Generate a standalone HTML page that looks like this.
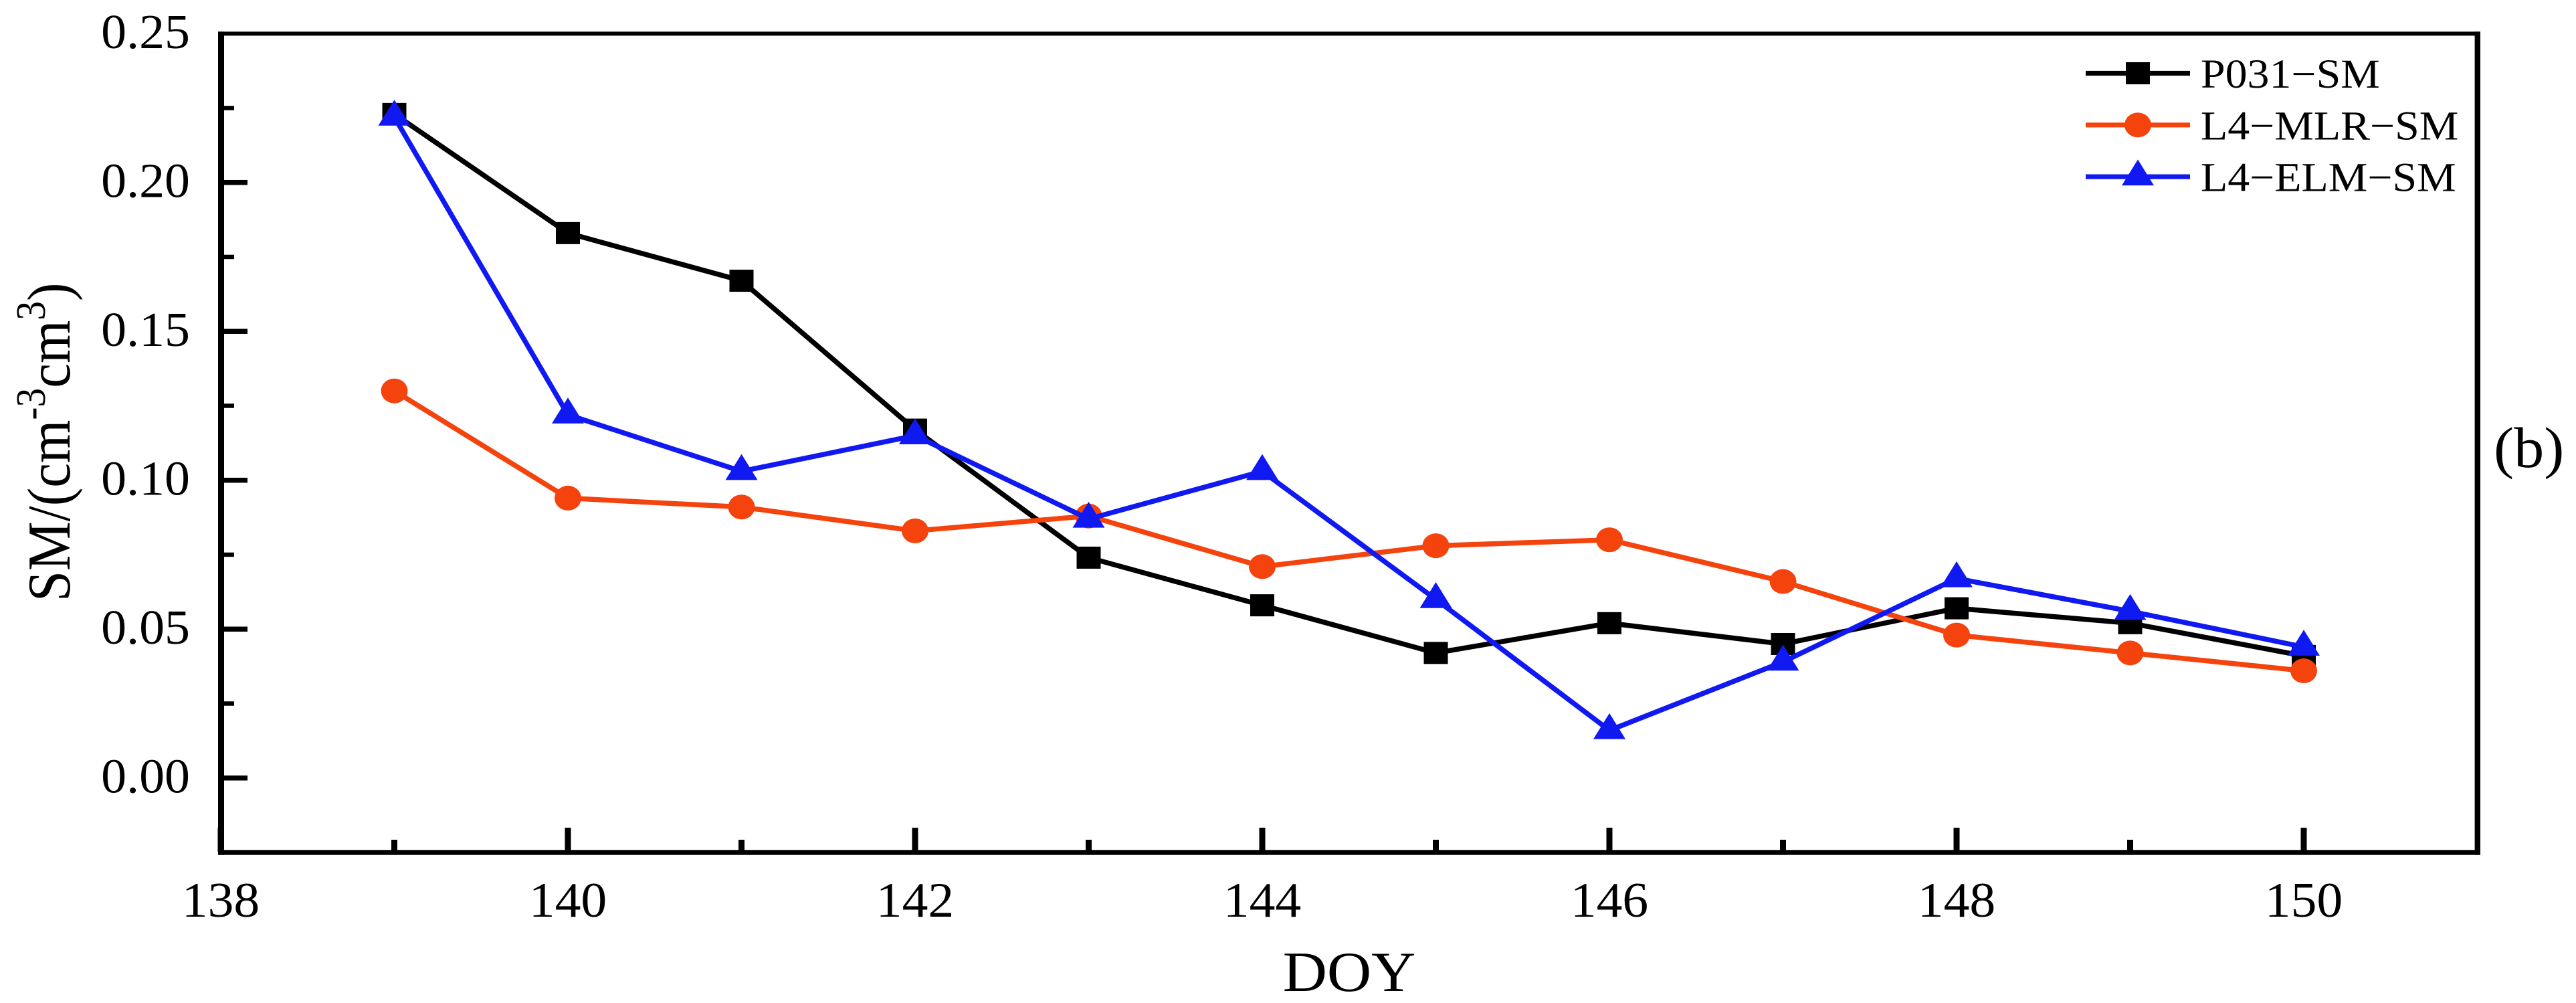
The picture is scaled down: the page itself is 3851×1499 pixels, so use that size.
<!DOCTYPE html>
<html lang="en">
<head>
<meta charset="utf-8">
<title>SM time series (b)</title>
<style>
  html, body { margin: 0; padding: 0; background: #fff; }
  svg { display: block; }
  text { font-family: "Liberation Serif", "Times New Roman", serif; fill: #000; }
</style>
</head>
<body>
<svg id="chart" xmlns="http://www.w3.org/2000/svg" width="3851" height="1499" viewBox="0 0 3851 1499">
  <rect x="0" y="0" width="3851" height="1499" fill="#ffffff"/>
  <g id="ticks"></g>
  <g id="tick-labels"></g>
  <g id="series"></g>
  <g fill="#000">
    <rect x="326" y="47.3" width="9" height="1230.4"/>
    <rect x="3699.6" y="47.3" width="8.4" height="1230.4"/>
    <rect x="326" y="47.3" width="3382" height="6"/>
    <rect x="326" y="1270.3" width="3382" height="7.4"/>
  </g>
  <text transform="translate(104,899) rotate(-90) scale(0.91,1)" font-size="91">SM/(cm<tspan font-size="63" dy="-37">-3</tspan><tspan dy="37">cm</tspan><tspan font-size="63" dy="-37">3</tspan><tspan dy="37">)</tspan></text>
  <text transform="translate(2017,1481) scale(1.08,1)" font-size="85" text-anchor="middle">DOY</text>
  <text transform="translate(3728,698) scale(1.05,1)" font-size="86">(b)</text>
  <g id="legend"></g>
</svg>
<script>
const days = [139, 140, 141, 142, 143, 144, 145, 146, 147, 148, 149, 150];
const p031Values = [0.223, 0.183, 0.167, 0.117, 0.074, 0.058, 0.042, 0.052, 0.045, 0.057, 0.052, 0.041];
const mlrValues = [0.130, 0.094, 0.091, 0.083, 0.088, 0.071, 0.078, 0.080, 0.066, 0.048, 0.042, 0.036];
const elmValues = [0.222, 0.122, 0.103, 0.115, 0.087, 0.103, 0.060, 0.016, 0.039, 0.067, 0.056, 0.044];
const seriesNames = ["P031\u2212SM", "L4\u2212MLR\u2212SM", "L4\u2212ELM\u2212SM"];
const xTickLabels = ["138", "140", "142", "144", "146", "148", "150"];
const xMinorTicks = [139, 141, 143, 145, 147, 149];
const yTickLabels = ["0.00", "0.05", "0.10", "0.15", "0.20", "0.25"];
const yMinorTicks = [0.025, 0.075, 0.125, 0.175, 0.225];

const NS = "http://www.w3.org/2000/svg";
const xDomain = [138, 151], xRange = [330, 3703.5];
const yDomain = [-0.025, 0.25], yRange = [1274, 50.2];
function xScale(v) { return xRange[0] + (v - xDomain[0]) / (xDomain[1] - xDomain[0]) * (xRange[1] - xRange[0]); }
function yScale(v) { return yRange[0] + (v - yDomain[0]) / (yDomain[1] - yDomain[0]) * (yRange[1] - yRange[0]); }
function make(tag, attrs, parent) {
  const el = document.createElementNS(NS, tag);
  for (const k in attrs) el.setAttribute(k, attrs[k]);
  parent.appendChild(el);
  return el;
}
const BLACK = "#000000", RED = "#F5430D", BLUE = "#1019F2";
const ticksG = document.getElementById("ticks");
const labelsG = document.getElementById("tick-labels");
const seriesG = document.getElementById("series");
const legendG = document.getElementById("legend");

function drawMarker(kind, cx, cy, color, parent) {
  let m;
  if (kind === "square") {
    m = make("rect", { x: cx - 18, y: cy - 16.5, width: 36, height: 33, fill: color }, parent);
  } else if (kind === "circle") {
    m = make("ellipse", { cx: cx, cy: cy, rx: 20, ry: 18.5, fill: color }, parent);
  } else {
    m = make("polygon", { points: (cx) + "," + (cy - 25.7) + " " + (cx + 24) + "," + (cy + 13) + " " + (cx - 24) + "," + (cy + 13), fill: color }, parent);
  }
  
  
  return m;
}

yTickLabels.forEach(function (label) {
  const v = parseFloat(label);
  if (v < yDomain[1]) {
    const t = make("rect", { x: 330, y: yScale(v) - 3.75, width: 40, height: 7.5, fill: BLACK }, ticksG);
    
    
  }
  const l = make("text", { transform: "translate(284," + (yScale(v) + 21.7) + ") scale(1.04,1)", "font-size": 73, "text-anchor": "end" }, labelsG);
  l.textContent = label;
  
  
});
yMinorTicks.forEach(function (v) {
  const t = make("rect", { x: 330, y: yScale(v) - 3.25, width: 20, height: 6.5, fill: BLACK }, ticksG);
  
  
});
xTickLabels.forEach(function (label) {
  const v = parseFloat(label);
  const t = make("rect", { x: xScale(v) - 4.5, y: 1237, width: 9, height: 36, fill: BLACK }, ticksG);
  
  
  const l = make("text", { transform: "translate(" + xScale(v) + ",1370) scale(1.05,1)", "font-size": 74, "text-anchor": "middle" }, labelsG);
  l.textContent = label;
  
  
});
xMinorTicks.forEach(function (v) {
  const t = make("rect", { x: xScale(v) - 4.5, y: 1255, width: 9, height: 18, fill: BLACK }, ticksG);
  
  
});

function drawSeries(values, color, kind, name) {
  const g = make("g", {}, seriesG);
  
  
  const pts = values.map(function (v, i) { return xScale(days[i]) + "," + yScale(v); }).join(" ");
  const line = make("polyline", { points: pts, fill: "none", stroke: color, "stroke-width": 7.5, "stroke-linejoin": "miter" }, g);
  
  
  values.forEach(function (v, i) { drawMarker(kind, xScale(days[i]), yScale(v), color, g); });
}
drawSeries(p031Values, BLACK, "square", "series-p031-sm");
drawSeries(mlrValues, RED, "circle", "series-l4-mlr-sm");
drawSeries(elmValues, BLUE, "triangle", "series-l4-elm-sm");

const legendColors = [BLACK, RED, BLUE];
const legendKinds = ["square", "circle", "triangle"];
seriesNames.forEach(function (name, i) {
  const rowY = 109.5 + i * 77.3;
  const g = make("g", {}, legendG);
  
  
  const ln = make("rect", { x: 3118, y: rowY - 3.6, width: 156, height: 7.2, fill: legendColors[i] }, g);
  
  
  drawMarker(legendKinds[i], 3196, rowY, legendColors[i], g);
  const t = make("text", { transform: "translate(3290," + (rowY + 21.6) + ") scale(1.08,1)", "font-size": 61 }, g);
  t.textContent = name;
  
  
});
</script>
</body>
</html>
